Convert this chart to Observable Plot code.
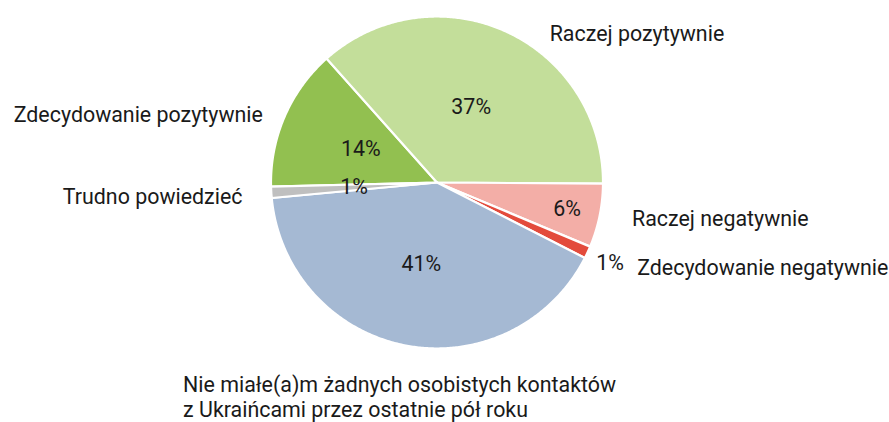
<!DOCTYPE html>
<html>
<head>
<meta charset="utf-8">
<script src="https://cdn.jsdelivr.net/npm/d3@7"></script>
<script src="https://cdn.jsdelivr.net/npm/@observablehq/plot@0.6"></script>
<style>
  html, body { margin: 0; padding: 0; background: #fff; }
  #chart svg { display: block; }
</style>
</head>
<body>
<div id="chart"></div>
<script>
// ---- data ----
const categories = [
  "Zdecydowanie pozytywnie",
  "Raczej pozytywnie",
  "Raczej negatywnie",
  "Zdecydowanie negatywnie",
  "Nie miałe(a)m żadnych osobistych kontaktów\nz Ukraińcami przez ostatnie pół roku",
  "Trudno powiedzieć"
];
const values = [13.8, 36.7, 6.2, 1.2, 41.0, 1.1];
const colors = ["#92c050", "#c3de9a", "#f3aea7", "#e34b3c", "#a5b9d3", "#bfbfbf"];

// ---- layout (not data) ----
const W = 889, H = 422;
const cx = 436.5, cy = 182, R = 166;       // pixel centre / radius of the pie
const startDeg = 268.6;                     // rotation of the first slice
const pctRadius   = [0.5, 0.5, 0.8, 1.15, 0.5, 0.5];
const labelRadius = 1.15;
const labelAnchor = ["end", "start", "start", "start", "start", "end"];
const labelNudge  = [[1, 7], [34, 24], [8, -3], [27, 4], [-218, 4], [-4, 2]]; // px
const labelLine   = ["middle", "middle", "middle", "middle", "top", "middle"];

// ---- derived ----
const total = d3.sum(values);
let acc = startDeg;
const slices = categories.map((c, i) => {
  const a0 = acc, a1 = acc + values[i] / total * 360;
  acc = a1;
  return {cat: c, value: values[i], color: colors[i], a0, a1, mid: (a0 + a1) / 2, i};
});
const rad = d => d * Math.PI / 180;
const polar = (deg, r) => ({x: r * Math.sin(rad(deg)), y: r * Math.cos(rad(deg))});

const slicePts = slices.flatMap(s => {
  const n = Math.max(2, Math.ceil((s.a1 - s.a0) / 0.5));
  const pts = [{...polar(0, 0), cat: s.cat, color: s.color}];
  for (let k = 0; k <= n; k++) {
    const a = s.a0 + (s.a1 - s.a0) * k / n;
    pts.push({...polar(a, 1), cat: s.cat, color: s.color});
  }
  pts.push({...polar(0, 0), cat: s.cat, color: s.color});
  return pts;
});

const pctLabels = slices.map(s => ({
  ...polar(s.mid, pctRadius[s.i]),
  text: Math.round(s.value) + "%"
}));
const catLabels = slices.map(s => {
  const p = polar(s.mid, labelRadius);
  const [dx, dy] = labelNudge[s.i];
  return {x: p.x + dx / R, y: p.y - dy / R, text: s.cat, anchor: labelAnchor[s.i], line: labelLine[s.i]};
});

const font = "Roboto, 'Noto Sans', sans-serif";
const textOpts = {fontSize: 21.4, fontFamily: font, fill: "#1a1a1a"};

const chart = Plot.plot({
  width: W, height: H,
  marginTop: 0, marginRight: 0, marginBottom: 0, marginLeft: 0,
  x: {domain: [-cx / R, (W - cx) / R], axis: null},
  y: {domain: [-(H - cy) / R, cy / R], axis: null},
  color: {type: "identity"},
  marks: [
    Plot.line(slicePts, {x: "x", y: "y", z: "cat", fill: "color", stroke: "white",
      strokeWidth: 2.2, strokeLinejoin: "round", curve: "linear"}),
    Plot.text(pctLabels, {x: "x", y: "y", text: "text", textAnchor: "middle", ...textOpts}),
    ...["start", "end"].flatMap(anchor => ["middle", "top"].map(line =>
      Plot.text(catLabels.filter(d => d.anchor === anchor && d.line === line),
        {x: "x", y: "y", text: "text", textAnchor: anchor, lineAnchor: line,
         lineHeight: 1.17, ...textOpts})))
  ]
});
document.getElementById("chart").appendChild(chart);
</script>
</body>
</html>
